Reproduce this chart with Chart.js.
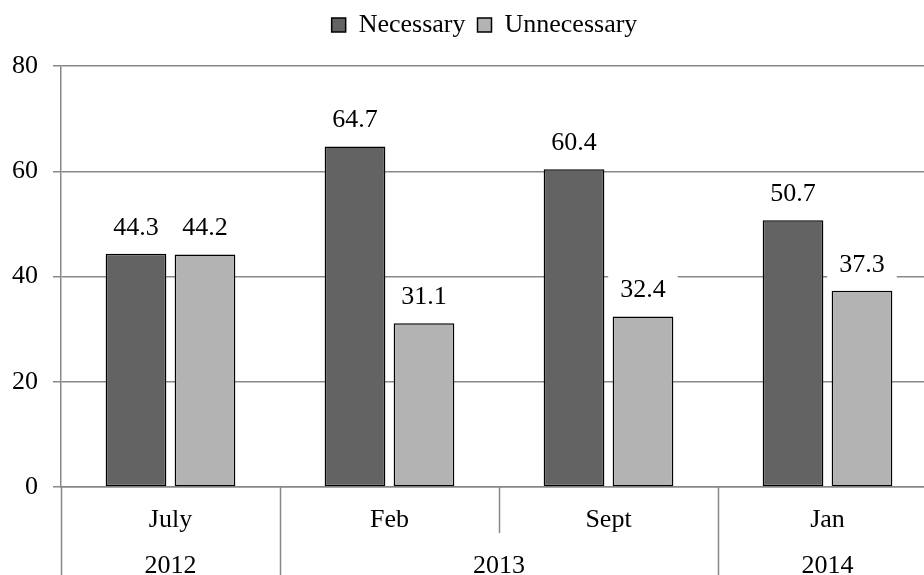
<!DOCTYPE html>
<html>
<head>
<meta charset="utf-8">
<script src="https://cdn.jsdelivr.net/npm/chart.js@4/dist/chart.umd.min.js"></script>
<style>
  html, body { margin: 0; padding: 0; background: #fff; overflow: hidden; }
  #wrap { width: 970px; height: 575px; position: relative; }
</style>
</head>
<body>
<div id="wrap"><canvas id="chart"></canvas></div>
<script>
// values
const months = ['July', 'Feb', 'Sept', 'Jan']
const years = ['2012', '2013', '2013', '2014']
const necessary = [44.3, 64.7, 60.4, 50.7]
const unnecessary = [44.2, 31.1, 32.4, 37.3]
const yTicks = [0, 20, 40, 60, 80]

const FONT = 'Liberation Serif'
const FS = 26
const GRID = '#888888'

// more room under the legend, and nudge it right like the original
const legendSpace = {
  id: 'legendSpace',
  beforeInit(chart) {
    const fit = chart.legend.fit
    chart.legend.fit = function () {
      fit.call(this)
      this.height += 18
    }
  },
  afterLayout(chart) {
    chart.legend.left += 32
  }
}

// values above bars, white box behind so grid lines are hidden
const valueLabels = {
  id: 'valueLabels',
  afterDatasetsDraw(chart) {
    const ctx = chart.ctx
    ctx.save()
    ctx.font = FS + 'px "' + FONT + '"'
    ctx.textAlign = 'center'
    ctx.textBaseline = 'middle'
    chart.data.datasets.forEach((ds, di) => {
      const meta = chart.getDatasetMeta(di)
      meta.data.forEach((bar, i) => {
        const txt = ds.data[i].toFixed(1)
        const w = ctx.measureText(txt).width + 24
        const cy = bar.y - 27
        ctx.fillStyle = '#fff'
        ctx.fillRect(bar.x - w / 2, cy - 15, w, 30)
        ctx.fillStyle = '#000'
        ctx.fillText(txt, bar.x, cy + 1)
      })
    })
    ctx.restore()
  }
}

// second row of the x axis: years, with separators
const yearAxis = {
  id: 'yearAxis',
  afterDraw(chart) {
    const x = chart.scales.x
    const ctx = chart.ctx
    const half = (x.getPixelForValue(1) - x.getPixelForValue(0)) / 2
    const top = x.top
    const bottom = chart.height
    ctx.save()
    ctx.strokeStyle = GRID
    ctx.lineWidth = 1.5
    for (let i = 0; i <= months.length; i++) {
      const bx = i < months.length ? x.getPixelForValue(i) - half : x.getPixelForValue(i - 1) + half
      const same = i > 0 && i < months.length && years[i] === years[i - 1]
      ctx.beginPath()
      ctx.moveTo(Math.round(bx) + 0.5, top)
      ctx.lineTo(Math.round(bx) + 0.5, same ? top + 46 : bottom)
      ctx.stroke()
    }
    ctx.font = FS + 'px "' + FONT + '"'
    ctx.fillStyle = '#000'
    ctx.textAlign = 'center'
    ctx.textBaseline = 'middle'
    let start = 0
    for (let i = 1; i <= years.length; i++) {
      if (i === years.length || years[i] !== years[start]) {
        const l = x.getPixelForValue(start) - half
        const r = x.getPixelForValue(i - 1) + half
        ctx.fillText(years[start], (l + r) / 2, top + 79)
        start = i
      }
    }
    ctx.restore()
  }
}

const ctx = document.getElementById('chart')
new Chart(ctx, {
  type: 'bar',
  data: {
    labels: months,
    datasets: [
      {
        label: 'Necessary',
        data: necessary,
        backgroundColor: '#636363',
        borderColor: '#000',
        borderWidth: 1.5,
        borderSkipped: false
      },
      {
        label: 'Unnecessary',
        data: unnecessary,
        backgroundColor: '#b3b3b3',
        borderColor: '#000',
        borderWidth: 1.5,
        borderSkipped: false
      }
    ]
  },
  options: {
    responsive: true,
    maintainAspectRatio: false,
    animation: false,
    categoryPercentage: 0.63,
    barPercentage: 0.88,
    layout: { padding: { left: 0, right: 33, top: 0, bottom: 0 } },
    plugins: {
      tooltip: { enabled: false },
      legend: {
        position: 'top',
        labels: {
          font: { family: FONT, size: FS },
          color: '#000',
          boxWidth: 14,
          boxHeight: 14,
          padding: 12
        }
      }
    },
    scales: {
      y: {
        min: yTicks[0],
        max: yTicks[yTicks.length - 1],
        afterBuildTicks: (s) => { s.ticks = yTicks.map(v => ({ value: v })) },
        afterFit: (s) => { s.width = 61 },
        grid: { color: GRID, lineWidth: 1.5, tickLength: 8 },
        border: { color: GRID, width: 1.5 },
        ticks: { font: { family: FONT, size: FS }, color: '#000', padding: 15 }
      },
      x: {
        afterFit: (s) => { s.height = 88 },
        grid: { display: false, drawTicks: false },
        border: { color: GRID, width: 1.5 },
        ticks: { font: { family: FONT, size: FS }, color: '#000', padding: 18 }
      }
    }
  },
  plugins: [legendSpace, valueLabels, yearAxis]
})
</script>
</body>
</html>
